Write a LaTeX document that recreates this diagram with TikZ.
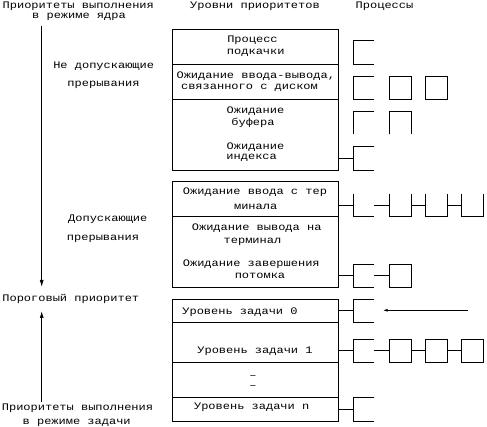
\documentclass[tikz,border=0pt]{standalone}
\usepackage{fontspec}
\setmainfont{Liberation Mono}[FakeStretch=1.2]
\usetikzlibrary{arrows.meta}
\begin{document}
\begin{tikzpicture}[x=1pt,y=-1pt, line width=0.9pt,
 txt/.style={anchor=base, inner sep=0pt, font=\fontsize{10}{12}\selectfont},
 row/.style={draw, minimum width=166pt, inner sep=0pt, outer sep=0pt},
 slot/.style={minimum width=21pt, minimum height=23pt, inner sep=0pt, outer sep=0pt},
 cell/.style={draw, minimum width=22.4pt, minimum height=23pt, inner sep=0pt, outer sep=0pt},
 open/.style={minimum width=22.4pt, minimum height=23pt, inner sep=0pt, outer sep=0pt},
 arr/.style={-{Latex[length=7pt,width=4pt]}},
 sarr/.style={-{Latex[length=5pt,width=3pt]}}]
\useasboundingbox (0,0) rectangle (487,427);

% headers and left labels
\node[txt] (t1) at (78.3,9) {Приоритеты выполнения};
\node[txt] (t2) at (79,18.3) {в режиме ядра};
\node[txt] (t3) at (255,9) {Уровни приоритетов};
\node[txt] (t4) at (384.5,9) {Процессы};
\node[txt] (t5) at (103.7,68.3) {Не допускающие};
\node[txt] (t6) at (103.5,86.5) {прерывания};
\node[txt] (t7) at (107.8,221.7) {Допускающие};
\node[txt] (t8) at (103,240.5) {прерывания};
\node[txt] (t9) at (70.8,301.7) {Пороговый приоритет};
\node[txt] (t10) at (77.5,410) {Приоритеты выполнения};
\node[txt] (t11) at (76.7,424) {в режиме задачи};

% left arrows
\coordinate (ka) at (41.7,26);
\coordinate (kb) at (41.7,287);
\draw[arr] (ka) -- (kb);
\coordinate (ua) at (41.7,402);
\coordinate (ub) at (41.7,311);
\draw[arr] (ua) -- (ub);

% priority rows
\node[row, minimum height=35pt]   (r1) at (255.3,46.8) {};
\node[row, minimum height=35pt]   (r2) at (255.3,81.8) {};
\node[row, minimum height=71.4pt] (r3) at (255.3,135) {};
\node[row, minimum height=35pt]   (r4) at (255.3,199) {};
\node[row, minimum height=70.5pt] (r5) at (255.3,251.75) {};
\node[row, minimum height=23.5pt] (r6) at (255.3,311.05) {};
\node[row, minimum height=39.2pt] (r7) at (255.3,342.4) {};
\node[row, minimum height=35.3pt] (r8) at (255.3,379.65) {};
\node[row, minimum height=24.2pt] (r9) at (255.3,409.4) {};

% row texts
\node[txt] (a1) at (252.5,43) {Процесс};
\node[txt] (a2) at (255.8,54.3) {подкачки};
\node[txt] (a3) at (255.8,79) {Ожидание ввода-вывода,};
\node[txt] (a4) at (249.5,90) {связанного с диском};
\node[txt] (a5) at (255.5,113.3) {Ожидание};
\node[txt] (a6) at (253,125.7) {буфера};
\node[txt] (a7) at (255.5,149.3) {Ожидание};
\node[txt] (a8) at (251.7,160) {индекса};
\node[txt] (a9) at (255,195) {Ожидание ввода с тер};
\node[txt] (a10) at (255.7,209.3) {минала};
\node[txt] (a11) at (256.7,230.7) {Ожидание вывода на};
\node[txt] (a12) at (252.5,243.3) {терминал};
\node[txt] (a13) at (251.3,266.7) {Ожидание завершения};
\node[txt] (a14) at (260,278.3) {потомка};
\node[txt] (a15) at (240,315) {Уровень задачи 0};
\node[txt] (a16) at (255,354) {Уровень задачи 1};
\node[txt] (d1) at (253,378.7) {–};
\node[txt] (d2) at (253,388.7) {–};
\node[txt] (a17) at (251.7,409.3) {Уровень задачи n};

% queue heads
\node[slot, minimum height=24pt]   (q1) at (363.8,52.3) {};
\node[slot, minimum height=22.3pt] (q2) at (363.8,87.85) {};
\node[slot]                        (q3) at (363.8,122.8) {};
\node[slot, minimum height=24pt]   (q4) at (363.8,158.3) {};
\node[slot, minimum height=22pt]   (q5) at (363.8,205) {};
\node[slot]                        (q6) at (363.8,275.8) {};
\node[slot]                        (q7) at (363.8,310.8) {};
\node[slot]                        (q8) at (363.8,350.8) {};
\node[slot, minimum height=23.7pt] (q9) at (363.8,409.15) {};
\foreach \q in {q1,q2,q4,q6,q7,q8,q9}
  \draw (\q.north east) -- (\q.north west) -- (\q.south west) -- (\q.south east);
\draw (q3.north east) -- (q3.north west) -- (q3.south west);
\draw (q5.north west) -- (q5.south west) -- (q5.south east);

% stubs from rows to queue heads
\draw (r3.east |- q4.west) -- (q4.west);
\draw (r4.east |- q5.west) -- (q5.west);
\draw (r5.east |- q6.west) -- (q6.west);
\draw (r6.east |- q7.west) -- (q7.west);
\draw (r7.east |- q8.west) -- (q8.west);
\draw (r9.east |- q9.west) -- (q9.west);

% row 2 processes
\node[cell, minimum height=22.3pt] (c21) at (400.5,87.85) {};
\node[cell, minimum height=22.3pt] (c22) at (436.5,87.85) {};
% row 3 process (open bottom)
\node[open] (p31) at (400.5,122.8) {};
\draw (p31.south west) -- (p31.north west) -- (p31.north east) -- (p31.south east);
% row 5 processes (open top)
\node[open, minimum height=22pt] (u51) at (400.5,205) {};
\node[open, minimum height=22pt] (u52) at (436.5,205) {};
\node[open, minimum height=22pt] (u53) at (472.5,205) {};
\foreach \u in {u51,u52,u53}
  \draw (\u.north west) -- (\u.south west) -- (\u.south east) -- (\u.north east);
\draw (q5.east) -- (u51.west);
\draw (u51.east) -- (u52.west);
\draw (u52.east) -- (u53.west);
% row 6
\node[cell] (c61) at (400.5,275.8) {};
\draw (q6.east) -- (c61.west);
% row 7 arrow
\coordinate (ea) at (468,310.3);
\coordinate (eb) at (382.7,310.3);
\draw[sarr] (ea) -- (eb);
% row 8
\node[cell] (c81) at (400.5,350.8) {};
\node[cell] (c82) at (436.5,350.8) {};
\node[cell] (c83) at (472.5,350.8) {};
\draw (q8.east) -- (c81.west);
\draw (c81.east) -- (c82.west);
\draw (c82.east) -- (c83.west);
\end{tikzpicture}
\end{document}
